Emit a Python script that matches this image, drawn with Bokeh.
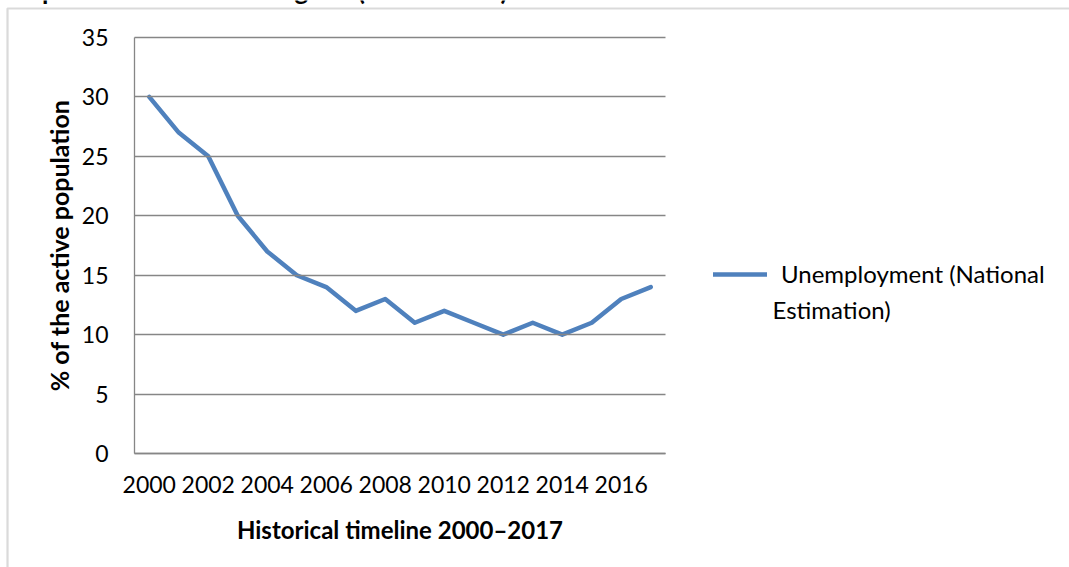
from bokeh.plotting import figure
from bokeh.models import (Label, Range1d, FixedTicker, Legend, LegendItem, BoxAnnotation,
                          LinearAxis)
from bokeh.embed import file_html
from bokeh.resources import INLINE

years = list(range(2000, 2018))
unemployment = [30, 27, 25, 20, 17, 15, 14, 12, 13, 11, 12, 11, 10, 11, 10, 11, 13, 14]
y_ticks = [0, 5, 10, 15, 20, 25, 30, 35]
x_ticks = [2000, 2002, 2004, 2006, 2008, 2010, 2012, 2014, 2016]
series_line1 = "Unemployment (National"
series_line2 = "Estimation)"
caption = "Graph 1: Labor force in Algeria (2000\u20132017)"

W, H = 1069, 567
# plot area inside the canvas (pixels): left 134, right 665, top 37, bottom 453
PL, PR, PT, PB = 134, 665, 37, 453
x0, x1 = years[0] - 0.5, years[-1] + 0.5
y0, y1 = y_ticks[0], y_ticks[-1]
xs = (x1 - x0) / (PR - PL)
ys = (y1 - y0) / (PB - PT)

p = figure(width=W, height=H, output_backend="svg", toolbar_location=None,
           x_axis_location=None, y_axis_location=None,
           x_range=Range1d(x0 - PL * xs, x1 + (W - PR) * xs),
           y_range=Range1d(y0 - (H - PB) * ys, y1 + PT * ys),
           min_border=0)
p.outline_line_color = None
p.background_fill_color = "white"
p.border_fill_color = "white"
for g in list(p.grid):
    g.visible = False

FONT = "Lato"
GRID = "#868686"

yaxis = LinearAxis(fixed_location=x0, ticker=FixedTicker(ticks=y_ticks), bounds=(y0, y1))
xaxis = LinearAxis(fixed_location=y0, ticker=FixedTicker(ticks=x_ticks), bounds=(x0, x1))
for ax in (xaxis, yaxis):
    ax.axis_line_color = GRID
    ax.axis_line_width = 1.3
    ax.minor_tick_line_color = None
    ax.major_tick_out = 0
    ax.major_label_text_font = FONT
    ax.major_label_text_font_size = "23px"
    ax.major_label_text_color = "#000000"
    ax.axis_label_text_font = FONT
    ax.axis_label_text_font_style = "bold"
    ax.axis_label_text_color = "#000000"
xaxis.major_tick_line_color = None
xaxis.major_tick_in = 0
# y gridlines drawn as ticks reaching across the plot area
yaxis.major_tick_line_color = GRID
yaxis.major_tick_line_width = 1.3
yaxis.major_tick_in = PR - PL
yaxis.axis_label_text_font_size = "25px"
xaxis.axis_label_text_font_size = "24px"
yaxis.major_label_standoff = 26
xaxis.major_label_standoff = 22
yaxis.axis_label = "% of the active population"
xaxis.axis_label = "Historical timeline 2000\u20132017"
yaxis.axis_label_standoff = 5
xaxis.axis_label_standoff = 19
p.add_layout(yaxis, "left")
p.add_layout(xaxis, "below")

r = p.line(years, unemployment, line_color="#4F81BD", line_width=4.5,
           line_join="round", line_cap="round")

legend = Legend(items=[LegendItem(label=series_line1, renderers=[r])],
                location=(713, 279),
                border_line_color=None, background_fill_alpha=0,
                label_text_font=FONT, label_text_font_size="24px",
                label_text_color="#000000",
                glyph_width=54, glyph_height=20, label_standoff=14, padding=0, margin=0)
p.add_layout(legend, "center")
p.add_layout(Label(x=772, y=H - 309, x_units="screen", y_units="screen", text=series_line2,
                   text_font=FONT, text_font_size="24px", text_baseline="middle",
                   text_color="#000000"))

# outer chart border
p.add_layout(BoxAnnotation(left=7, right=W + 20, bottom=-20, top=H - 8,
                           left_units="screen", right_units="screen",
                           bottom_units="screen", top_units="screen",
                           fill_alpha=0, line_color=GRID, line_width=2.2))
# caption clipped at the top edge
p.add_layout(Label(x=0, y=H + 11, x_units="screen", y_units="screen", text=caption,
                   text_font=FONT, text_font_size="26px", text_font_style="bold",
                   text_baseline="alphabetic", text_color="#000000"))

open("out.html", "w").write(file_html(p, INLINE))
